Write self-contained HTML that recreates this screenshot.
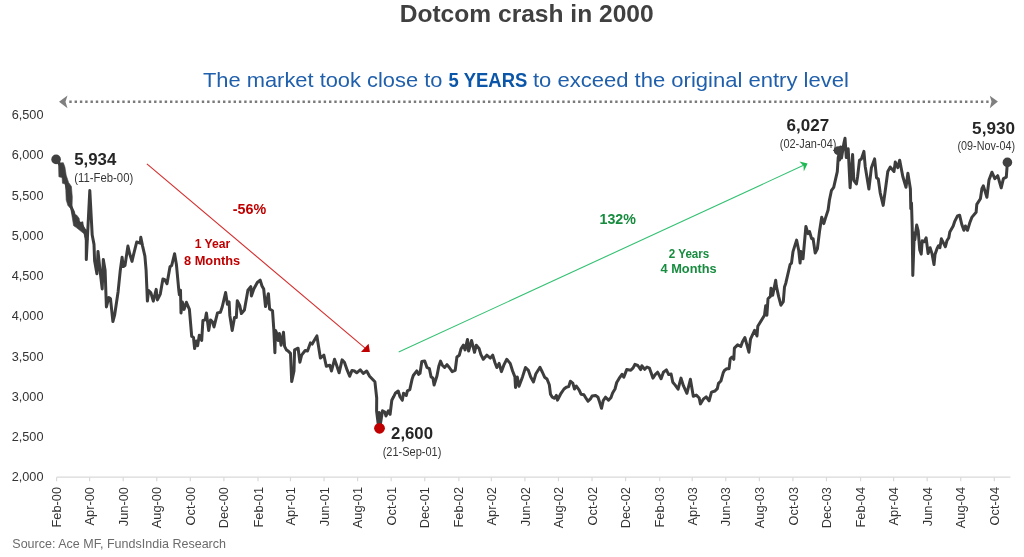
<!DOCTYPE html>
<html><head><meta charset="utf-8"><style>
html,body{margin:0;padding:0;background:#fff;}
svg{display:block;font-family:"Liberation Sans", sans-serif;will-change:transform;}
</style></head><body>
<svg width="1024" height="557" viewBox="0 0 1024 557">
<rect width="1024" height="557" fill="#ffffff"/>
<text x="399.7" y="22" font-size="23.7" fill="#404040" font-weight="bold" text-anchor="start" textLength="254" lengthAdjust="spacingAndGlyphs">Dotcom crash in 2000</text>
<text x="203" y="86.8" font-size="20.3" fill="#1f5fac" font-weight="normal" text-anchor="start" textLength="239.4" lengthAdjust="spacingAndGlyphs">The market took close to</text>
<text x="448.6" y="86.8" font-size="20.3" fill="#0b56a8" font-weight="bold" text-anchor="start" textLength="78.7" lengthAdjust="spacingAndGlyphs">5 YEARS</text>
<text x="533" y="86.8" font-size="20.3" fill="#1f5fac" font-weight="normal" text-anchor="start" textLength="315.8" lengthAdjust="spacingAndGlyphs">to exceed the original entry level</text>
<line x1="69.3" y1="101.65" x2="988.6" y2="101.65" stroke="#7a7a7a" stroke-width="2.5" stroke-dasharray="2.4 2.9"/>
<polygon points="59,101.7 67.5,95.5 65.5,101.7 67.5,108.2" fill="#7f7f7f"/>
<polygon points="997.9,101.6 989.8,95.7 991.5,101.6 989.8,108.3" fill="#7f7f7f"/>
<text x="43.5" y="119.05" font-size="13.2" fill="#333333" font-weight="normal" text-anchor="end" textLength="31.8" lengthAdjust="spacingAndGlyphs">6,500</text>
<text x="43.5" y="159.32" font-size="13.2" fill="#333333" font-weight="normal" text-anchor="end" textLength="31.8" lengthAdjust="spacingAndGlyphs">6,000</text>
<text x="43.5" y="199.59" font-size="13.2" fill="#333333" font-weight="normal" text-anchor="end" textLength="31.8" lengthAdjust="spacingAndGlyphs">5,500</text>
<text x="43.5" y="239.86" font-size="13.2" fill="#333333" font-weight="normal" text-anchor="end" textLength="31.8" lengthAdjust="spacingAndGlyphs">5,000</text>
<text x="43.5" y="280.13" font-size="13.2" fill="#333333" font-weight="normal" text-anchor="end" textLength="31.8" lengthAdjust="spacingAndGlyphs">4,500</text>
<text x="43.5" y="320.4" font-size="13.2" fill="#333333" font-weight="normal" text-anchor="end" textLength="31.8" lengthAdjust="spacingAndGlyphs">4,000</text>
<text x="43.5" y="360.67" font-size="13.2" fill="#333333" font-weight="normal" text-anchor="end" textLength="31.8" lengthAdjust="spacingAndGlyphs">3,500</text>
<text x="43.5" y="400.94" font-size="13.2" fill="#333333" font-weight="normal" text-anchor="end" textLength="31.8" lengthAdjust="spacingAndGlyphs">3,000</text>
<text x="43.5" y="441.21" font-size="13.2" fill="#333333" font-weight="normal" text-anchor="end" textLength="31.8" lengthAdjust="spacingAndGlyphs">2,500</text>
<text x="43.5" y="481.48" font-size="13.2" fill="#333333" font-weight="normal" text-anchor="end" textLength="31.8" lengthAdjust="spacingAndGlyphs">2,000</text>
<line x1="56.7" y1="477.2" x2="1010.4" y2="477.2" stroke="#d9d9d9" stroke-width="1.2"/>
<line x1="56.60" y1="477.2" x2="56.60" y2="481.3" stroke="#d9d9d9" stroke-width="1.2"/>
<text transform="translate(61.20,487) rotate(-90)" x="0" y="0" font-size="12.8" fill="#333333" text-anchor="end">Feb-00</text>
<line x1="89.62" y1="477.2" x2="89.62" y2="481.3" stroke="#d9d9d9" stroke-width="1.2"/>
<text transform="translate(94.22,487) rotate(-90)" x="0" y="0" font-size="12.8" fill="#333333" text-anchor="end">Apr-00</text>
<line x1="123.19" y1="477.2" x2="123.19" y2="481.3" stroke="#d9d9d9" stroke-width="1.2"/>
<text transform="translate(127.79,487) rotate(-90)" x="0" y="0" font-size="12.8" fill="#333333" text-anchor="end">Jun-00</text>
<line x1="156.75" y1="477.2" x2="156.75" y2="481.3" stroke="#d9d9d9" stroke-width="1.2"/>
<text transform="translate(161.35,487) rotate(-90)" x="0" y="0" font-size="12.8" fill="#333333" text-anchor="end">Aug-00</text>
<line x1="190.32" y1="477.2" x2="190.32" y2="481.3" stroke="#d9d9d9" stroke-width="1.2"/>
<text transform="translate(194.92,487) rotate(-90)" x="0" y="0" font-size="12.8" fill="#333333" text-anchor="end">Oct-00</text>
<line x1="223.89" y1="477.2" x2="223.89" y2="481.3" stroke="#d9d9d9" stroke-width="1.2"/>
<text transform="translate(228.49,487) rotate(-90)" x="0" y="0" font-size="12.8" fill="#333333" text-anchor="end">Dec-00</text>
<line x1="258.01" y1="477.2" x2="258.01" y2="481.3" stroke="#d9d9d9" stroke-width="1.2"/>
<text transform="translate(262.61,487) rotate(-90)" x="0" y="0" font-size="12.8" fill="#333333" text-anchor="end">Feb-01</text>
<line x1="290.48" y1="477.2" x2="290.48" y2="481.3" stroke="#d9d9d9" stroke-width="1.2"/>
<text transform="translate(295.08,487) rotate(-90)" x="0" y="0" font-size="12.8" fill="#333333" text-anchor="end">Apr-01</text>
<line x1="324.05" y1="477.2" x2="324.05" y2="481.3" stroke="#d9d9d9" stroke-width="1.2"/>
<text transform="translate(328.65,487) rotate(-90)" x="0" y="0" font-size="12.8" fill="#333333" text-anchor="end">Jun-01</text>
<line x1="357.61" y1="477.2" x2="357.61" y2="481.3" stroke="#d9d9d9" stroke-width="1.2"/>
<text transform="translate(362.21,487) rotate(-90)" x="0" y="0" font-size="12.8" fill="#333333" text-anchor="end">Aug-01</text>
<line x1="391.18" y1="477.2" x2="391.18" y2="481.3" stroke="#d9d9d9" stroke-width="1.2"/>
<text transform="translate(395.78,487) rotate(-90)" x="0" y="0" font-size="12.8" fill="#333333" text-anchor="end">Oct-01</text>
<line x1="424.75" y1="477.2" x2="424.75" y2="481.3" stroke="#d9d9d9" stroke-width="1.2"/>
<text transform="translate(429.35,487) rotate(-90)" x="0" y="0" font-size="12.8" fill="#333333" text-anchor="end">Dec-01</text>
<line x1="458.87" y1="477.2" x2="458.87" y2="481.3" stroke="#d9d9d9" stroke-width="1.2"/>
<text transform="translate(463.47,487) rotate(-90)" x="0" y="0" font-size="12.8" fill="#333333" text-anchor="end">Feb-02</text>
<line x1="491.34" y1="477.2" x2="491.34" y2="481.3" stroke="#d9d9d9" stroke-width="1.2"/>
<text transform="translate(495.94,487) rotate(-90)" x="0" y="0" font-size="12.8" fill="#333333" text-anchor="end">Apr-02</text>
<line x1="524.91" y1="477.2" x2="524.91" y2="481.3" stroke="#d9d9d9" stroke-width="1.2"/>
<text transform="translate(529.51,487) rotate(-90)" x="0" y="0" font-size="12.8" fill="#333333" text-anchor="end">Jun-02</text>
<line x1="558.47" y1="477.2" x2="558.47" y2="481.3" stroke="#d9d9d9" stroke-width="1.2"/>
<text transform="translate(563.07,487) rotate(-90)" x="0" y="0" font-size="12.8" fill="#333333" text-anchor="end">Aug-02</text>
<line x1="592.04" y1="477.2" x2="592.04" y2="481.3" stroke="#d9d9d9" stroke-width="1.2"/>
<text transform="translate(596.64,487) rotate(-90)" x="0" y="0" font-size="12.8" fill="#333333" text-anchor="end">Oct-02</text>
<line x1="625.61" y1="477.2" x2="625.61" y2="481.3" stroke="#d9d9d9" stroke-width="1.2"/>
<text transform="translate(630.21,487) rotate(-90)" x="0" y="0" font-size="12.8" fill="#333333" text-anchor="end">Dec-02</text>
<line x1="659.73" y1="477.2" x2="659.73" y2="481.3" stroke="#d9d9d9" stroke-width="1.2"/>
<text transform="translate(664.33,487) rotate(-90)" x="0" y="0" font-size="12.8" fill="#333333" text-anchor="end">Feb-03</text>
<line x1="692.20" y1="477.2" x2="692.20" y2="481.3" stroke="#d9d9d9" stroke-width="1.2"/>
<text transform="translate(696.80,487) rotate(-90)" x="0" y="0" font-size="12.8" fill="#333333" text-anchor="end">Apr-03</text>
<line x1="725.76" y1="477.2" x2="725.76" y2="481.3" stroke="#d9d9d9" stroke-width="1.2"/>
<text transform="translate(730.36,487) rotate(-90)" x="0" y="0" font-size="12.8" fill="#333333" text-anchor="end">Jun-03</text>
<line x1="759.33" y1="477.2" x2="759.33" y2="481.3" stroke="#d9d9d9" stroke-width="1.2"/>
<text transform="translate(763.93,487) rotate(-90)" x="0" y="0" font-size="12.8" fill="#333333" text-anchor="end">Aug-03</text>
<line x1="792.90" y1="477.2" x2="792.90" y2="481.3" stroke="#d9d9d9" stroke-width="1.2"/>
<text transform="translate(797.50,487) rotate(-90)" x="0" y="0" font-size="12.8" fill="#333333" text-anchor="end">Oct-03</text>
<line x1="826.47" y1="477.2" x2="826.47" y2="481.3" stroke="#d9d9d9" stroke-width="1.2"/>
<text transform="translate(831.07,487) rotate(-90)" x="0" y="0" font-size="12.8" fill="#333333" text-anchor="end">Dec-03</text>
<line x1="860.59" y1="477.2" x2="860.59" y2="481.3" stroke="#d9d9d9" stroke-width="1.2"/>
<text transform="translate(865.19,487) rotate(-90)" x="0" y="0" font-size="12.8" fill="#333333" text-anchor="end">Feb-04</text>
<line x1="893.61" y1="477.2" x2="893.61" y2="481.3" stroke="#d9d9d9" stroke-width="1.2"/>
<text transform="translate(898.21,487) rotate(-90)" x="0" y="0" font-size="12.8" fill="#333333" text-anchor="end">Apr-04</text>
<line x1="927.17" y1="477.2" x2="927.17" y2="481.3" stroke="#d9d9d9" stroke-width="1.2"/>
<text transform="translate(931.77,487) rotate(-90)" x="0" y="0" font-size="12.8" fill="#333333" text-anchor="end">Jun-04</text>
<line x1="960.74" y1="477.2" x2="960.74" y2="481.3" stroke="#d9d9d9" stroke-width="1.2"/>
<text transform="translate(965.34,487) rotate(-90)" x="0" y="0" font-size="12.8" fill="#333333" text-anchor="end">Aug-04</text>
<line x1="994.31" y1="477.2" x2="994.31" y2="481.3" stroke="#d9d9d9" stroke-width="1.2"/>
<text transform="translate(998.91,487) rotate(-90)" x="0" y="0" font-size="12.8" fill="#333333" text-anchor="end">Oct-04</text>
<text x="12.3" y="547.9" font-size="12.7" fill="#6b6b6b" font-weight="normal" text-anchor="start" textLength="213.7" lengthAdjust="spacingAndGlyphs">Source: Ace MF, FundsIndia Research</text>
<polygon points="58.5,163 58.9,176.8 62.1,177.6 62.5,183.3 65.3,184.1 65.8,190.5 66.2,200 67.9,205.5 70.8,208.7 73.6,225.7 76,227.3 84.1,233.8 85.3,240 88.1,240 86.5,229.7 83.7,228.9 82.9,221.7 79.6,222.5 79.2,218.4 76.8,215.2 75.2,214.4 74,210.3 72,208.7 72.3,197 71.4,186.5 68.6,182.5 66.2,175.2 64.9,167.1 63.3,162.7" fill="#404040" stroke="#404040" stroke-width="0.6" stroke-linejoin="round"/>
<polyline points="56.1,159.4 61,166 63.5,176 66,183 68.5,193 69.5,203 72,209 75,219 78,222 81,224 84.5,230 86.3,238 86.3,259.6 89.8,190.5 92.2,235 94,244.4 94.6,260.8 96.9,273.7 98,251.4 100.4,273.7 102.2,288.9 103.3,259.6 105.1,270.2 106.4,307 108.8,297.6 110.5,298.8 112.9,321.6 114.6,315.2 118.1,291.7 120.3,270.2 122.1,257.3 123.2,266.6 125,265.5 127.9,246.1 129.7,253.8 132,261.4 133.2,256.1 136.7,242 140.2,243.2 140.8,237.3 142.6,246.1 144.9,256.1 146.1,270.2 147.4,301.1 148.6,290.5 150.9,292.9 153.3,301.1 156.2,289.4 157.4,299.9 160.3,294.1 162.9,279 164.7,279.6 167,283.7 170,266.7 171.7,265.5 174.6,253.7 176.4,264.4 178.8,290.2 179.4,294.8 180.5,290.2 181,313 182.3,301.9 184.1,309.4 186.4,302.3 189.4,309.4 191.7,336.3 193.5,337.5 194.6,348.6 196.4,341 197.6,345.7 199.3,335.2 201.7,340.4 202.9,320.5 205.2,319.9 206.4,312.9 208.7,330.5 210.5,319.9 212.8,322.3 214,327 216.3,317.6 217.5,312.9 220.4,312.3 222.2,307 225.6,292.5 227.4,304.2 229.1,301.9 229.8,315.2 232.2,330.5 234.5,317.6 236.3,317.6 237.3,300.7 239.7,305.4 241.4,313.6 244.4,310.1 247.9,290.2 250.8,286.6 251.4,296 253.8,289 257.3,282.5 260.2,280.2 262,286 263.7,289 265.5,306.6 268.4,293.7 269.6,308.9 272.5,310.7 273.8,329.3 274.9,352.7 275.5,330.5 276.4,332.3 278.2,340.5 279.4,333.5 281.1,345.2 283.5,332.3 284.6,346.4 286.4,349.9 288.2,351.1 290.5,353.4 291.7,381.6 294,371 294.6,349.9 298.1,348.2 299.9,362.2 301.6,355.2 305.2,350.5 307.5,351.1 310.4,342.9 312.2,344.1 313.9,341.1 316.9,335.9 318,342.9 320.4,358.1 323.9,355.2 326.3,366.3 329.8,365.2 331.5,371 334.5,359.3 336.2,364 339.1,372.8 342.1,359.9 344.4,362.2 347.3,370.4 349.7,376.3 352,370.4 354.4,371 356.7,372.8 360.2,369.8 363.2,373.4 366.7,371 369.6,376.3 374.9,381.7 376.7,398 376.6,411 378.2,424 379.2,412.5 380.4,424 382.5,410.8 384.8,412 386,416 388.3,410.8 390.1,414.3 391.8,400.3 393.6,396.8 395.3,393.3 398.2,391 400,396.8 402.3,400.3 403.5,393.3 406.3,395.5 407.4,390.8 409.8,389.6 412.1,379.1 413.3,375.5 416.8,370.9 418.6,374.4 420,373.4 421.8,361.6 424.7,361.1 427,367.5 429.4,368.7 431.1,376.9 432.9,378 434.1,385.1 437,375.7 438.8,366.3 440.5,361.1 442.3,365.2 444.6,367.5 447,364.6 449.3,367.5 452.2,371.6 455.2,370.4 456.9,357 459.3,355.2 461,348.8 463.4,345.2 465.1,349.9 467.5,339.4 468.6,351.1 471.6,340.5 474.5,352.3 476.3,345.2 479.2,348.8 480.9,354.6 483.3,359.3 486.8,355.2 490.3,358.1 492.7,355.2 495,362.8 496.8,367.5 499.1,363.4 501.4,371.6 503.8,365.2 506.7,359.3 510.2,363.4 512.6,371 514.9,376.9 515.5,387.4 517.3,376.9 519,386.3 522.5,376.9 525.5,367.5 528.4,370.4 530.7,376.9 533.5,381.9 535.9,373.7 540,367.3 542.3,372 544.6,377.2 547,379 549.3,384.8 550.5,394.2 552.3,397.2 554.6,398.3 556.4,395.4 557.5,400.1 560.5,394.2 564,389 566.3,387.2 568.7,386.6 570.4,381.3 572.8,383.1 574.5,389 576.3,386 579.2,390.1 581,394.2 583.9,394.8 585.7,397.7 588,401.3 590.4,398.9 592.1,396 595.6,395.4 598,397.2 599.7,402.4 601.5,408.3 603.2,400.7 605.6,397.2 608.5,400.1 610.9,397.7 612.6,393 615,389 616.7,382.5 619.1,378.4 622,374.3 623.8,377.2 626.7,369.6 630.8,370.2 633.1,367.9 634.9,364.3 637.8,365.5 640.7,369.6 641.8,365.8 644.7,369.3 647,367 649.4,368.1 651.1,372.8 652.9,378.1 655.2,374.6 657.6,372.2 659.3,375.2 661.1,378.7 663.4,372.2 666.4,369.9 668.7,374.6 671.1,374 672.8,382.2 675.2,385.1 678.1,389.2 681,378.1 683.4,385.7 686.9,393.3 690.4,379.3 693.3,396.3 696.3,395.1 699.2,398 700.4,403.9 703.3,399.2 706.2,396.8 709.1,400.9 711.5,392.2 715,391 717.3,388.6 718.5,383.4 720.9,381 723.2,372.8 724.4,370.5 726.7,368.7 729.1,368.7 730.2,358.8 732,357 733.8,359.3 734.4,348.1 737.6,344.9 740.8,346.5 742.5,341.7 744.9,337.6 748.9,352.2 750.5,339.2 754.6,330.3 757,336 757.8,326.3 764.5,315.2 765.7,305.8 766.9,315.2 768,298.8 770.4,296.4 771,288.2 772.7,295.2 775.7,280.3 776.3,285.9 778.6,296.4 780.9,305.2 783.3,301.7 784.5,287 785.8,283.2 790.1,264.5 791.5,263.1 793,251.6 796.6,240.1 798.7,250.2 800.1,263.1 800.9,251.6 803,258.8 805.9,226.5 808,233.7 809.5,231.5 811.6,238.7 813.1,238.7 815.2,253.1 817.4,248.8 819.5,231.5 821.7,217.2 823.8,223.6 825.3,218.6 828.1,210 829.4,200.3 831.5,190.3 833.7,187.4 837.3,171.6 838.2,157.6 840.7,147 839.5,160 842,148 841.5,158 843.9,143.2 845,138.2 846.3,157.6 848.2,148.8 850.1,187.8 852.6,154.5 853.8,180.3 856.4,184 857.6,176.5 859.5,160.2 861.4,158.9 863.9,151.4 865.2,166.4 868.9,189 871.4,167.7 874.6,158.9 876.5,177.7 878.3,179 880.2,192.8 883.2,205.4 885.3,190.3 887.8,171.5 890.3,167.1 894,171.5 895.3,162 897.8,167.7 899.7,160.2 902.8,176.5 906,187.2 907.9,173.3 910.4,189 910.8,208.8 911.5,203 912.2,227.4 912.8,275.4 914.3,232.9 914.8,239.8 916.7,225 918.2,230.9 919.7,249.7 921.2,254.1 922.2,240.8 924.1,241.8 926.1,237.8 928.1,253.6 930.1,247.7 932,253.6 934,264.5 935,254.6 937,248.7 938.5,245.7 939.9,247.7 941.4,238.8 943.4,242.8 945.4,246.7 946.9,240.8 948.8,237.8 949.8,231.9 953.2,226 954.6,221.7 957.5,215.9 959.6,215.2 961.8,224.5 963.9,230.3 965.4,226 967.5,230.3 969.7,223.1 971.8,217.4 976.1,212.3 976.8,204.4 980.4,198.7 981.9,188.7 983.3,185.8 984.7,190.1 986.9,197.3 989,180 991.9,172.2 994.8,178.6 997.7,175.7 1001.2,187.9 1003.4,178.6 1006.3,177.2 1007.4,162.4" fill="none" stroke="#3d3d3d" stroke-width="3" stroke-linejoin="round" stroke-linecap="round"/>
<circle cx="56.1" cy="159.4" r="4.8" fill="#404040"/>
<circle cx="838.2" cy="150.7" r="4.4" fill="#404040"/>
<circle cx="1007.4" cy="162.4" r="4.8" fill="#404040"/>
<circle cx="379.5" cy="428.3" r="5.4" fill="#c00000"/>
<text x="74.2" y="165.4" font-size="16" fill="#262626" font-weight="bold" text-anchor="start" textLength="42.1" lengthAdjust="spacingAndGlyphs">5,934</text>
<text x="74.3" y="181.6" font-size="12.3" fill="#363636" font-weight="normal" text-anchor="start" textLength="58.9" lengthAdjust="spacingAndGlyphs">(11-Feb-00)</text>
<text x="786.6" y="131" font-size="16" fill="#262626" font-weight="bold" text-anchor="start" textLength="42.5" lengthAdjust="spacingAndGlyphs">6,027</text>
<text x="779.8" y="147.8" font-size="12.3" fill="#363636" font-weight="normal" text-anchor="start" textLength="56.6" lengthAdjust="spacingAndGlyphs">(02-Jan-04)</text>
<text x="972.1" y="134.1" font-size="16" fill="#262626" font-weight="bold" text-anchor="start" textLength="42.9" lengthAdjust="spacingAndGlyphs">5,930</text>
<text x="957.5" y="150.2" font-size="12.3" fill="#363636" font-weight="normal" text-anchor="start" textLength="57.5" lengthAdjust="spacingAndGlyphs">(09-Nov-04)</text>
<text x="391.1" y="438.9" font-size="16" fill="#262626" font-weight="bold" text-anchor="start" textLength="41.9" lengthAdjust="spacingAndGlyphs">2,600</text>
<text x="382.7" y="455.5" font-size="12.3" fill="#363636" font-weight="normal" text-anchor="start" textLength="58.7" lengthAdjust="spacingAndGlyphs">(21-Sep-01)</text>
<line x1="146.9" y1="163.9" x2="366" y2="348.8" stroke="#d42a2a" stroke-width="1.1"/>
<polygon points="369.9,352.1 361,351.9 365,347.5 368.6,343.8" fill="#c00000"/>
<line x1="398.7" y1="352.1" x2="803" y2="165.6" stroke="#33c172" stroke-width="1.1"/>
<polygon points="807.6,163.5 799.5,161.5 803.5,166 803.8,171.4" fill="#1db954"/>
<text x="232.8" y="213.7" font-size="14.5" fill="#c00000" font-weight="bold" text-anchor="start" textLength="33.4" lengthAdjust="spacingAndGlyphs">-56%</text>
<text x="194.7" y="248.4" font-size="12.2" fill="#c00000" font-weight="bold" text-anchor="start" textLength="35.6" lengthAdjust="spacingAndGlyphs">1 Year</text>
<text x="184" y="264.6" font-size="12.2" fill="#c00000" font-weight="bold" text-anchor="start" textLength="56.2" lengthAdjust="spacingAndGlyphs">8 Months</text>
<text x="599.5" y="223.75" font-size="14" fill="#178c3f" font-weight="bold" text-anchor="start" textLength="36.4" lengthAdjust="spacingAndGlyphs">132%</text>
<text x="668.75" y="257.5" font-size="12.2" fill="#178c3f" font-weight="bold" text-anchor="start" textLength="40.6" lengthAdjust="spacingAndGlyphs">2 Years</text>
<text x="660.5" y="273.4" font-size="12.2" fill="#178c3f" font-weight="bold" text-anchor="start" textLength="56.2" lengthAdjust="spacingAndGlyphs">4 Months</text>
</svg>
</body></html>
